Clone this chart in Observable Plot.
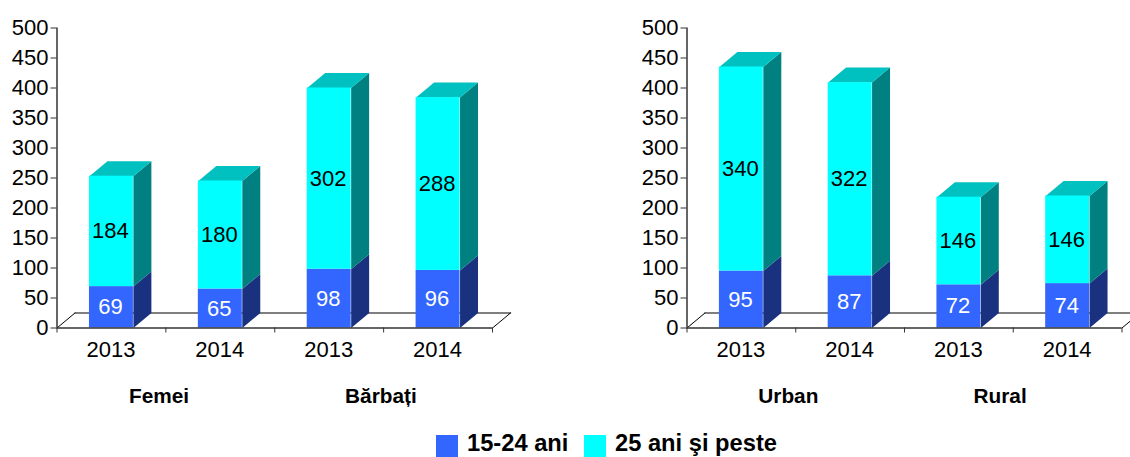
<!DOCTYPE html>
<html lang="ro">
<head>
<meta charset="utf-8">
<script src="https://cdn.jsdelivr.net/npm/d3@7"></script>
<script src="https://cdn.jsdelivr.net/npm/@observablehq/plot@0.6"></script>
<style>
  html, body { margin: 0; padding: 0; background: #fff; overflow: hidden; }
  #page { position: relative; width: 1130px; height: 457px; overflow: hidden; font-family: "Liberation Sans", Arial, sans-serif; }
  #left, #right { position: absolute; top: 0; }
  #left { left: 0; } #right { left: 630px; }
  #left svg, #right svg { display: block; max-width: none; }
  .swatch { position: absolute; top: 435px; width: 22px; height: 22px; }
  .legend-label { position: absolute; top: 429.5px; font-weight: bold; font-size: 23.7px; line-height: 27px; white-space: nowrap; color: #000; }
</style>
</head>
<body>
<div id="page">
  <div id="left"></div>
  <div id="right"></div>
  <div id="legend"></div>
</div>
<script>
const years = ["2013", "2014", "2013", "2014"];
const leftGroups = ["Femei", "Bărbați"];
const rightGroups = ["Urban", "Rural"];
const leftYoung = [69, 65, 98, 96];
const leftOlder = [184, 180, 302, 288];
const rightYoung = [95, 87, 72, 74];
const rightOlder = [340, 322, 146, 146];
const yTicks = [0, 50, 100, 150, 200, 250, 300, 350, 400, 450, 500];
const seriesNames = ["15-24 ani", "25 ani şi peste"];

const colors = {
  young: "#3366ff", youngSide: "#1a3180",
  older: "#00ffff", olderSide: "#008080", top: "#00c0c0"
};
const FONT = 22;
const BAR = 44 / 109;      // bar width, in category units
const DX = 18 / 109;       // oblique depth, in category units
const DY = 25;             // oblique depth, in value units

function face(id, points) {
  return points.map(([x, y]) => ({id, x, y}));
}

function panel(young, older, groups, groupAt, width, marginRight) {
  const rows = young.map((v, i) => ({
    i, x1: i + 0.5 - BAR / 2, x2: i + 0.5 + BAR / 2,
    young: v, older: older[i], total: v + older[i], center: i + 0.5
  }));
  const sideYoung = rows.flatMap(r => face(r.i, [[r.x2, 0], [r.x2 + DX, DY], [r.x2 + DX, r.young + DY], [r.x2, r.young]]));
  const sideOlder = rows.flatMap(r => face(r.i, [[r.x2, r.young], [r.x2 + DX, r.young + DY], [r.x2 + DX, r.total + DY], [r.x2, r.total]]));
  const tops = rows.flatMap(r => face(r.i, [[r.x1, r.total], [r.x1 + DX, r.total + DY], [r.x2 + DX, r.total + DY], [r.x2, r.total]]));
  const n = young.length;

  return Plot.plot({
    width, height: 436,
    marginLeft: 56.5, marginRight, marginTop: 27.5, marginBottom: 108.5,
    style: {fontFamily: '"Liberation Sans", Arial, sans-serif', background: "transparent", color: "#000"},
    x: {domain: [0, n]},
    y: {domain: [0, 500]},
    marks: [
      // floor
      Plot.line([[DX, DY], [n + DX, DY]], {stroke: "#555", strokeWidth: 1.5}),
      Plot.line([[0, 0], [DX, DY]], {stroke: "#000", strokeWidth: 1}),
      Plot.line([[n, 0], [n + DX, DY]], {stroke: "#000", strokeWidth: 1}),
      // bars
      Plot.line(sideYoung, {x: "x", y: "y", z: "id", fill: colors.youngSide, stroke: "none"}),
      Plot.line(sideOlder, {x: "x", y: "y", z: "id", fill: colors.olderSide, stroke: "none"}),
      Plot.line(tops, {x: "x", y: "y", z: "id", fill: colors.top, stroke: "none"}),
      Plot.rect(rows, {x1: "x1", x2: "x2", y1: 0, y2: "young", fill: colors.young}),
      Plot.rect(rows, {x1: "x1", x2: "x2", y1: "young", y2: "total", fill: colors.older}),
      // axes
      Plot.ruleY([0], {stroke: "#333", strokeWidth: 1.5}),
      Plot.ruleX([0], {y1: 0, y2: 500, stroke: "#333", strokeWidth: 1.5}),
      Plot.axisY({ticks: yTicks, tickSize: 6, tickFormat: () => "", label: null, stroke: "#333"}),
      Plot.axisY({ticks: yTicks, tickSize: 0, tickPadding: 8.5, dy: -0.5, fontSize: FONT, label: null}),
      Plot.axisX({ticks: d3.range(n + 1), tickSize: 5, tickFormat: () => "", label: null, stroke: "#333"}),
      Plot.axisX({ticks: rows.map(r => r.center), tickSize: 0, tickPadding: 13, dx: -0.5, fontSize: FONT,
                  tickFormat: d => years[Math.floor(d)], label: null}),
      // value labels
      Plot.text(rows, {x: "center", y: r => r.young / 2, dx: -1, text: "young", fill: "#fff", fontSize: FONT}),
      Plot.text(rows, {x: "center", y: r => r.young + r.older / 2, dx: -1, text: "older", fill: "#000", fontSize: FONT}),
      // group labels
      Plot.text(groups, {x: (d, i) => groupAt[i], y: 0, dy: 68, text: d => d, fontWeight: "bold", fontSize: 20.8, fill: "#000"})
    ]
  });
}

document.getElementById("left").append(panel(leftYoung, leftOlder, leftGroups, [0.937, 2.975], 630, 138));
document.getElementById("right").append(panel(rightYoung, rightOlder, rightGroups, [0.932, 2.879], 500, 8.5));

const legend = document.getElementById("legend");
[[436, 467, colors.young], [584, 615, colors.older]].forEach(([sx, tx, c], i) => {
  const s = document.createElement("div");
  s.className = "swatch"; s.style.left = sx + "px"; s.style.background = c;
  const t = document.createElement("div");
  t.className = "legend-label"; t.style.left = tx + "px"; t.textContent = seriesNames[i];
  legend.append(s, t);
});
</script>
</body>
</html>
